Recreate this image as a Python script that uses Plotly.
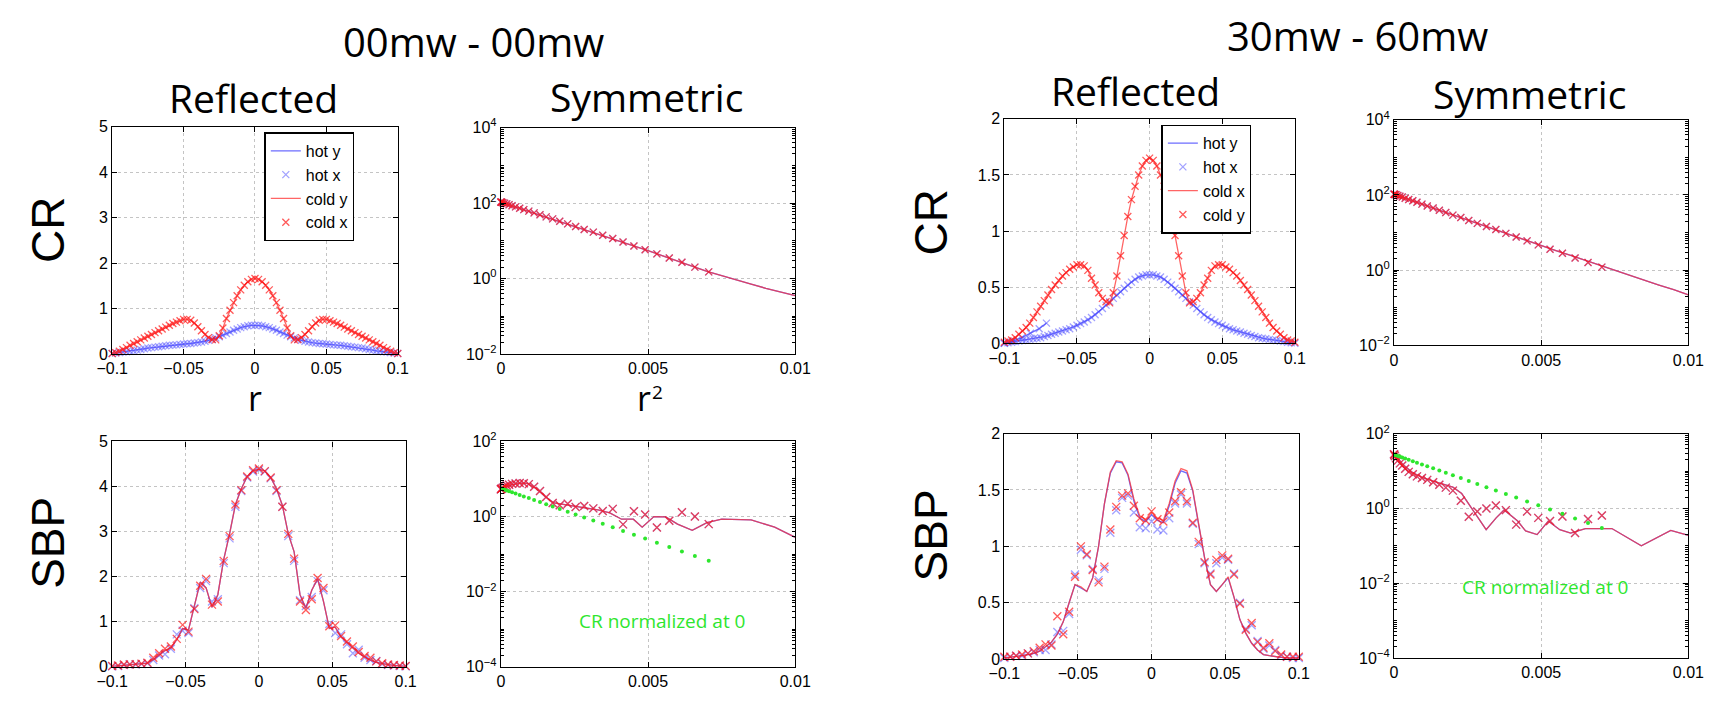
import plotly.graph_objects as go

W, H = 1727, 704

# ---------------- data ----------------
R81 = [-0.1, -0.0975, -0.095, -0.0925, -0.09, -0.0875, -0.085, -0.0825, -0.08, -0.0775,
       -0.075, -0.0725, -0.07, -0.0675, -0.065, -0.0625, -0.06, -0.0575, -0.055, -0.0525,
       -0.05, -0.0475, -0.045, -0.0425, -0.04, -0.0375, -0.035, -0.0325, -0.03, -0.0275,
       -0.025, -0.0225, -0.02, -0.0175, -0.015, -0.0125, -0.01, -0.0075, -0.005, -0.0025,
       0.0,
       0.0025, 0.005, 0.0075, 0.01, 0.0125, 0.015, 0.0175, 0.02, 0.0225, 0.025,
       0.0275, 0.03, 0.0325, 0.035, 0.0375, 0.04, 0.0425, 0.045, 0.0475, 0.05,
       0.0525, 0.055, 0.0575, 0.06, 0.0625, 0.065, 0.0675, 0.07, 0.0725, 0.075,
       0.0775, 0.08, 0.0825, 0.085, 0.0875, 0.09, 0.0925, 0.095, 0.0975, 0.1]

cr00_hot = [0.01, 0.02, 0.03, 0.04, 0.05, 0.06, 0.07, 0.085, 0.10, 0.115,
            0.13, 0.14, 0.15, 0.16, 0.17, 0.18, 0.19, 0.195, 0.20, 0.21,
            0.22, 0.225, 0.23, 0.24, 0.25, 0.265, 0.28, 0.30, 0.32, 0.35,
            0.38, 0.415, 0.45, 0.485, 0.52, 0.55, 0.58, 0.60, 0.62, 0.63,
            0.63,
            0.63, 0.62, 0.60, 0.58, 0.55, 0.52, 0.485, 0.45, 0.415, 0.38,
            0.35, 0.32, 0.30, 0.28, 0.265, 0.25, 0.24, 0.23, 0.225, 0.22,
            0.21, 0.20, 0.195, 0.19, 0.18, 0.17, 0.16, 0.15, 0.14, 0.13,
            0.115, 0.10, 0.085, 0.07, 0.06, 0.05, 0.04, 0.03, 0.02, 0.01]
cr00_cold = [0.01, 0.03, 0.06, 0.10, 0.14, 0.19, 0.23, 0.27, 0.31, 0.35,
             0.39, 0.43, 0.47, 0.51, 0.55, 0.59, 0.63, 0.67, 0.70, 0.73,
             0.76, 0.76, 0.74, 0.68, 0.60, 0.51, 0.43, 0.36, 0.32, 0.31,
             0.40, 0.57, 0.78, 0.96, 1.13, 1.28, 1.41, 1.51, 1.59, 1.64,
             1.66,
             1.64, 1.59, 1.51, 1.41, 1.28, 1.13, 0.96, 0.78, 0.57, 0.40,
             0.31, 0.32, 0.36, 0.43, 0.51, 0.60, 0.68, 0.74, 0.76, 0.76,
             0.73, 0.70, 0.67, 0.63, 0.59, 0.55, 0.51, 0.47, 0.43, 0.39,
             0.35, 0.31, 0.27, 0.23, 0.19, 0.14, 0.10, 0.06, 0.03, 0.01]
cr30_hot = [0.0, 0.005, 0.01, 0.015, 0.02, 0.025, 0.03, 0.035, 0.04, 0.045,
            0.05, 0.06, 0.07, 0.08, 0.09, 0.10, 0.11, 0.12, 0.13, 0.145,
            0.16, 0.175, 0.19, 0.21, 0.23, 0.255, 0.28, 0.31, 0.34, 0.37,
            0.40, 0.43, 0.46, 0.49, 0.52, 0.545, 0.57, 0.59, 0.60, 0.61,
            0.61,
            0.61, 0.60, 0.59, 0.57, 0.545, 0.52, 0.49, 0.46, 0.43, 0.40,
            0.37, 0.34, 0.31, 0.28, 0.255, 0.23, 0.21, 0.19, 0.175, 0.16,
            0.145, 0.13, 0.12, 0.11, 0.10, 0.09, 0.08, 0.07, 0.06, 0.05,
            0.045, 0.04, 0.035, 0.03, 0.025, 0.02, 0.015, 0.01, 0.005, 0.0]
cr30_cold = [0.01, 0.02, 0.03, 0.05, 0.08, 0.11, 0.14, 0.18, 0.23, 0.28,
             0.33, 0.38, 0.43, 0.48, 0.52, 0.56, 0.60, 0.63, 0.66, 0.68,
             0.70, 0.70, 0.69, 0.65, 0.58, 0.52, 0.45, 0.40, 0.37, 0.36,
             0.45, 0.60, 0.78, 0.96, 1.13, 1.28, 1.40, 1.50, 1.58, 1.63,
             1.65,
             1.63, 1.58, 1.50, 1.40, 1.28, 1.13, 0.96, 0.78, 0.60, 0.45,
             0.36, 0.37, 0.40, 0.45, 0.52, 0.58, 0.65, 0.69, 0.70, 0.70,
             0.68, 0.66, 0.63, 0.60, 0.56, 0.52, 0.48, 0.43, 0.38, 0.33,
             0.28, 0.23, 0.18, 0.14, 0.11, 0.08, 0.05, 0.03, 0.02, 0.01]
hot30_branch_r = [-0.1, -0.094, -0.088, -0.082, -0.076, -0.071]
hot30_branch = [0.0, 0.02, 0.05, 0.09, 0.13, 0.18]

R51 = [-0.1, -0.096, -0.092, -0.088, -0.084, -0.08, -0.076, -0.072, -0.068, -0.064,
       -0.06, -0.056, -0.052, -0.048, -0.044, -0.04, -0.036, -0.032, -0.028, -0.024,
       -0.02, -0.016, -0.012, -0.008, -0.004, 0.0, 0.004, 0.008, 0.012, 0.016,
       0.02, 0.024, 0.028, 0.032, 0.036, 0.04, 0.044, 0.048, 0.052, 0.056,
       0.06, 0.064, 0.068, 0.072, 0.076, 0.08, 0.084, 0.088, 0.092, 0.096, 0.1]

sbp00_line = [0.01, 0.02, 0.03, 0.04, 0.05, 0.06, 0.08, 0.16, 0.26, 0.36,
              0.42, 0.60, 0.85, 0.82, 1.35, 1.88, 1.75, 1.32, 1.60, 2.38,
              2.95, 3.60, 3.95, 4.22, 4.35, 4.38, 4.35, 4.20, 3.95, 3.58,
              2.95, 2.55, 1.60, 1.30, 1.70, 1.95, 1.45, 0.85, 0.88, 0.66,
              0.54, 0.42, 0.30, 0.22, 0.15, 0.10, 0.07, 0.05, 0.03, 0.02, 0.01]
sbp00_cold_x = [0.02, 0.03, 0.05, 0.05, 0.06, 0.07, 0.09, 0.20, 0.30, 0.40,
                0.45, 0.62, 0.93, 0.78, 1.28, 1.80, 1.95, 1.38, 1.45, 2.35,
                2.90, 3.60, 3.92, 4.22, 4.36, 4.40, 4.34, 4.20, 3.92, 3.55,
                2.95, 2.40, 1.45, 1.26, 1.50, 1.97, 1.75, 0.90, 0.92, 0.68,
                0.56, 0.45, 0.33, 0.24, 0.20, 0.12, 0.08, 0.05, 0.04, 0.03, 0.02]
sbp00_hot_x = [0.01, 0.02, 0.04, 0.06, 0.05, 0.06, 0.08, 0.15, 0.25, 0.28,
               0.40, 0.72, 0.80, 0.75, 1.30, 1.75, 1.90, 1.45, 1.50, 2.30,
               2.85, 3.55, 3.90, 4.20, 4.33, 4.37, 4.33, 4.18, 3.90, 3.55,
               2.90, 2.35, 1.48, 1.35, 1.55, 1.90, 1.70, 0.95, 0.75, 0.72,
               0.50, 0.30, 0.38, 0.20, 0.15, 0.13, 0.06, 0.04, 0.03, 0.02, 0.01]

sbp30_cold_y = [0.01, 0.015, 0.02, 0.03, 0.04, 0.05, 0.07, 0.11, 0.15, 0.22,
                0.33, 0.50, 0.66, 0.64, 0.60, 0.72, 1.00, 1.38, 1.66, 1.76,
                1.75, 1.64, 1.42, 1.27, 1.24, 1.30, 1.25, 1.23, 1.38, 1.58,
                1.69, 1.67, 1.50, 1.20, 0.90, 0.66, 0.60, 0.66, 0.73, 0.55,
                0.35, 0.23, 0.14, 0.08, 0.04, 0.03, 0.02, 0.015, 0.01, 0.01, 0.01]
sbp30_hot_y = [0.01, 0.015, 0.02, 0.03, 0.04, 0.05, 0.07, 0.11, 0.15, 0.22,
               0.33, 0.50, 0.66, 0.63, 0.60, 0.72, 1.00, 1.38, 1.65, 1.75,
               1.74, 1.63, 1.40, 1.25, 1.22, 1.28, 1.23, 1.21, 1.36, 1.56,
               1.67, 1.65, 1.49, 1.19, 0.90, 0.66, 0.60, 0.66, 0.72, 0.55,
               0.35, 0.23, 0.14, 0.08, 0.04, 0.03, 0.02, 0.015, 0.01, 0.01, 0.01]
sbp30_cold_x = [0.02, 0.02, 0.03, 0.04, 0.05, 0.07, 0.10, 0.13, 0.12, 0.38,
                0.22, 0.42, 0.73, 1.00, 0.93, 0.79, 0.68, 0.82, 1.15, 1.35,
                1.45, 1.47, 1.36, 1.25, 1.23, 1.31, 1.24, 1.22, 1.30, 1.40,
                1.48, 1.40, 1.21, 1.04, 0.86, 0.75, 0.88, 0.92, 0.89, 0.75,
                0.49, 0.26, 0.32, 0.15, 0.10, 0.14, 0.07, 0.04, 0.02, 0.02, 0.02]
sbp30_hot_x = [0.01, 0.02, 0.03, 0.03, 0.05, 0.06, 0.08, 0.08, 0.13, 0.24,
               0.25, 0.40, 0.75, 0.97, 0.92, 0.80, 0.70, 0.80, 1.12, 1.32,
               1.43, 1.45, 1.30, 1.17, 1.16, 1.22, 1.15, 1.14, 1.25, 1.38,
               1.46, 1.38, 1.20, 1.02, 0.85, 0.76, 0.85, 0.90, 0.88, 0.76,
               0.50, 0.27, 0.30, 0.16, 0.09, 0.12, 0.08, 0.03, 0.02, 0.01, 0.01]

# symmetric plots (x = r^2)
sym_line_r2 = [0.0, 0.0005, 0.001, 0.0015, 0.002, 0.0025, 0.003, 0.0035, 0.004, 0.0045, 0.005,
               0.0055, 0.006, 0.0065, 0.007, 0.0075, 0.008, 0.0085, 0.009, 0.0095, 0.01]
cr00_sym_line = [107, 78, 59, 43, 32, 24, 18, 13.3, 10, 7.4, 5.5,
                 4.0, 2.9, 2.1, 1.55, 1.2, 0.91, 0.71, 0.55, 0.44, 0.35]
cr30_sym_line = [105, 75, 55, 40, 29.5, 21.5, 15.5, 11.3, 8.3, 6.0, 4.4,
                 3.3, 2.45, 1.8, 1.35, 1.0, 0.72, 0.54, 0.40, 0.30, 0.22]

sym_mark_r2 = [0.0, 0.00001, 0.00003, 0.00007, 0.00013, 0.0002, 0.00028, 0.00038, 0.0005, 0.00064,
               0.00078, 0.00095, 0.00113, 0.00133, 0.00154, 0.00176, 0.002, 0.00227, 0.00254, 0.00283,
               0.00314, 0.00346, 0.0038, 0.00415, 0.00452, 0.0049, 0.0053, 0.00572, 0.00615, 0.00659,
               0.00706]
cr00_sym_x = [107, 106, 105, 102, 99, 95, 90, 85, 79, 73,
              67, 61, 55, 49, 43, 38, 33, 28, 24, 20,
              17, 14, 11.5, 9.3, 7.3, 5.8, 4.5, 3.5, 2.7, 2.0, 1.5]
cr30_sym_x = [105, 104, 103, 101, 97, 92, 88, 82, 76, 70,
              64, 57, 51, 45, 39, 34, 29, 25, 21, 17.5,
              14.5, 12, 9.5, 7.6, 6.0, 4.7, 3.6, 2.8, 2.1, 1.6, 1.2]

sbp00_sym_line_r2 = [0.0, 0.0003, 0.0006, 0.0009, 0.0012, 0.0015, 0.0018, 0.0021, 0.0025, 0.0029,
                     0.0033, 0.0037, 0.0041, 0.0045, 0.0048, 0.0052, 0.0056, 0.006, 0.0065, 0.007,
                     0.0075, 0.0085, 0.0093, 0.01]
sbp00_sym_line = [5.6, 6.8, 7.8, 7.6, 5.6, 3.4, 2.3, 2.1, 1.9, 1.7,
                  1.5, 1.25, 0.85, 0.85, 0.52, 1.0, 0.98, 0.63, 0.43, 0.69,
                  0.85, 0.82, 0.52, 0.28]
sbp00_sym_x = [5.3, 5.4, 5.6, 5.9, 6.3, 6.7, 7.0, 7.4, 7.6, 7.8,
               7.7, 7.3, 6.2, 4.8, 3.3, 2.3, 2.0, 2.2, 1.8, 1.9,
               1.65, 1.4, 1.6, 0.62, 1.39, 1.13, 0.51, 0.77, 1.3, 1.0, 0.63]
sbp00_cr_norm = [5.6, 5.6, 5.5, 5.4, 5.2, 4.96, 4.7, 4.4, 4.1, 3.76,
                 3.44, 3.1, 2.76, 2.44, 2.14, 1.86, 1.6, 1.35, 1.14, 0.95,
                 0.78, 0.64, 0.52, 0.41, 0.33, 0.26, 0.2, 0.154, 0.118, 0.089, 0.067]

sbp30_sym_line_r2 = [0.0, 0.0003, 0.00063, 0.00097, 0.0013, 0.00163, 0.002, 0.0023, 0.00263, 0.00313,
                     0.00347, 0.00374, 0.0042, 0.00447, 0.00486, 0.00524, 0.00563, 0.006, 0.0065, 0.0074,
                     0.0084, 0.0094, 0.01]
sbp30_sym_line = [30, 15, 9.1, 6.7, 5.5, 4.5, 3.7, 2.5, 1.0, 0.27,
                  0.56, 0.91, 0.46, 0.25, 0.2, 0.46, 0.27, 0.22, 0.29, 0.29,
                  0.1, 0.26, 0.19]
sbp30_sym_x = [28, 27, 25, 22, 19, 16, 14, 11.5, 9.5, 8.2,
               7.2, 6.5, 5.8, 5.0, 4.3, 3.6, 3.0, 1.6, 0.6, 0.83,
               1.0, 1.2, 0.9, 0.37, 0.83, 0.56, 0.46, 0.61, 0.22, 0.52, 0.65]
sbp30_cr_norm = [27.5, 27.4, 27, 26.4, 25.4, 24.3, 23, 21.6, 20, 18.3,
                 16.7, 15.0, 13.4, 11.8, 10.3, 8.95, 7.7, 6.5, 5.4, 4.5,
                 3.7, 3.0, 2.44, 1.95, 1.54, 1.21, 0.94, 0.72, 0.54, 0.41, 0.30]

refl_ticks = [-0.1, -0.05, 0, 0.05, 0.1]
refl_ticktext = ["\u22120.1", "\u22120.05", "0", "0.05", "0.1"]
sym_ticks = [0, 0.005, 0.01]
sym_ticktext = ["0", "0.005", "0.01"]

# ---------------- styles ----------------
BLUE_L = "rgba(60,60,255,0.75)"
BLUE_M = "rgba(70,70,255,0.5)"
RED_L = "rgba(255,50,50,0.75)"
RED_M = "rgba(255,20,20,0.7)"
GREEN = "#2ee62e"
HELV = "Liberation Sans, Arial, sans-serif"
TICKFONT = dict(family=HELV, size=16, color="black")
TITLEFONT = "Open Sans, Lato, sans-serif"

fig = go.Figure()


def ax_ids(i):
    return ("x" if i == 1 else f"x{i}"), ("y" if i == 1 else f"y{i}")


def add_line(i, x, y, color, name=None, legend=None, width=1.3):
    xa, ya = ax_ids(i)
    fig.add_trace(go.Scatter(x=x, y=y, mode="lines", line=dict(color=color, width=width),
                             xaxis=xa, yaxis=ya, name=name or "", showlegend=name is not None,
                             legend=legend or "legend", cliponaxis=False, hoverinfo="skip"))


def add_marks(i, x, y, color, name=None, legend=None, size=7):
    xa, ya = ax_ids(i)
    fig.add_trace(go.Scatter(x=x, y=y, mode="markers",
                             marker=dict(symbol="x-thin", size=size, color=color,
                                         line=dict(color=color, width=1.3)),
                             xaxis=xa, yaxis=ya, name=name or "", showlegend=name is not None,
                             legend=legend or "legend", cliponaxis=False, hoverinfo="skip"))


# 1: 00mw CR reflected
add_line(1, R81, cr00_hot, BLUE_L, "hot y", "legend")
add_marks(1, R81, cr00_hot, BLUE_M, "hot x", "legend")
add_line(1, R81, cr00_cold, RED_L, "cold y", "legend")
add_marks(1, R81, cr00_cold, RED_M, "cold x", "legend")
# 2: 00mw CR symmetric
add_line(2, sym_line_r2, cr00_sym_line, BLUE_L)
add_marks(2, sym_mark_r2, cr00_sym_x, BLUE_M)
add_line(2, sym_line_r2, cr00_sym_line, RED_L)
add_marks(2, sym_mark_r2, cr00_sym_x, RED_M)
# 3: 30mw CR reflected
add_line(3, R81, cr30_hot, BLUE_L, "hot y", "legend2")
add_line(3, hot30_branch_r, hot30_branch, BLUE_L)
add_marks(3, R81, cr30_hot, BLUE_M, "hot x", "legend2")
add_marks(3, hot30_branch_r, hot30_branch, BLUE_M)
add_line(3, R81, cr30_cold, RED_L, "cold x", "legend2")
add_marks(3, R81, cr30_cold, RED_M, "cold y", "legend2")
# 4: 30mw CR symmetric
add_line(4, sym_line_r2, cr30_sym_line, BLUE_L)
add_marks(4, sym_mark_r2, cr30_sym_x, BLUE_M)
add_line(4, sym_line_r2, cr30_sym_line, RED_L)
add_marks(4, sym_mark_r2, cr30_sym_x, RED_M)
# 5: 00mw SBP reflected
add_line(5, R51, sbp00_line, BLUE_L)
add_marks(5, R51, sbp00_hot_x, BLUE_M, size=8)
add_line(5, R51, sbp00_line, RED_L)
add_marks(5, R51, sbp00_cold_x, RED_M, size=8)
# 6: 00mw SBP symmetric
add_line(6, sbp00_sym_line_r2, sbp00_sym_line, BLUE_L)
add_marks(6, sym_mark_r2, sbp00_sym_x, BLUE_M, size=8)
add_line(6, sbp00_sym_line_r2, sbp00_sym_line, RED_L)
add_marks(6, sym_mark_r2, sbp00_sym_x, RED_M, size=8)
fig.add_trace(go.Scatter(x=sym_mark_r2, y=sbp00_cr_norm, mode="markers",
                         marker=dict(symbol="circle", size=4, color=GREEN),
                         xaxis="x6", yaxis="y6", showlegend=False, hoverinfo="skip"))
# 7: 30mw SBP reflected
add_line(7, R51, sbp30_hot_y, BLUE_L)
add_marks(7, R51, sbp30_hot_x, BLUE_M, size=8)
add_line(7, R51, sbp30_cold_y, RED_L)
add_marks(7, R51, sbp30_cold_x, RED_M, size=8)
# 8: 30mw SBP symmetric
add_line(8, sbp30_sym_line_r2, sbp30_sym_line, BLUE_L)
add_marks(8, sym_mark_r2, sbp30_sym_x, BLUE_M, size=8)
add_line(8, sbp30_sym_line_r2, sbp30_sym_line, RED_L)
add_marks(8, sym_mark_r2, sbp30_sym_x, RED_M, size=8)
fig.add_trace(go.Scatter(x=sym_mark_r2, y=sbp30_cr_norm, mode="markers",
                         marker=dict(symbol="circle", size=4, color=GREEN),
                         xaxis="x8", yaxis="y8", showlegend=False, hoverinfo="skip"))

# ---------------- axes ----------------
# pixel boxes (left, right, top, bottom)
boxes = {
    1: (98, 389, 119, 353),
    2: (494, 794, 120, 353),
    3: (1007, 1303, 111, 342),
    4: (1404, 1704, 112, 344),
    5: (98, 397, 443, 675),
    6: (494, 794, 443, 675),
    7: (1007, 1307, 435, 667),
    8: (1404, 1704, 435, 666),
}

common = dict(showline=True, linecolor="black", linewidth=1.2, mirror="allticks",
              ticks="inside", ticklen=5, tickcolor="black", tickfont=TICKFONT,
              showgrid=True, gridcolor="#c4c4c4", griddash="dot", gridwidth=1,
              zeroline=False, fixedrange=True)

log_vals_cr = [1e-2, 1, 1e2, 1e4]
log_text_cr = ["10<sup>\u22122</sup>", "10<sup>0</sup>", "10<sup>2</sup>", "10<sup>4</sup>"]
log_vals_sbp = [1e-4, 1e-2, 1, 1e2]
log_text_sbp = ["10<sup>\u22124</sup>", "10<sup>\u22122</sup>", "10<sup>0</sup>", "10<sup>2</sup>"]

layout_axes = {}
for i, (l, r, t, b) in boxes.items():
    xk = "xaxis" if i == 1 else f"xaxis{i}"
    yk = "yaxis" if i == 1 else f"yaxis{i}"
    xa, ya = ax_ids(i)
    xd = [l / W, r / W]
    yd = [1 - b / H, 1 - t / H]
    sym = i in (2, 4, 6, 8)
    if sym:
        xaxis = dict(common, domain=xd, anchor=ya, range=[0, 0.01],
                     tickmode="array", tickvals=sym_ticks, ticktext=sym_ticktext)
    else:
        xaxis = dict(common, domain=xd, anchor=ya, range=[-0.1, 0.1],
                     tickmode="array", tickvals=refl_ticks, ticktext=refl_ticktext)
    if i in (2, 4):
        yaxis = dict(common, domain=yd, anchor=xa, type="log", range=[-2, 4],
                     tickmode="array", tickvals=log_vals_cr, ticktext=log_text_cr,
                     minor=dict(ticks="inside", ticklen=3, tickcolor="black", dtick="D1", showgrid=False))
    elif i in (6, 8):
        yaxis = dict(common, domain=yd, anchor=xa, type="log", range=[-4, 2],
                     tickmode="array", tickvals=log_vals_sbp, ticktext=log_text_sbp,
                     minor=dict(ticks="inside", ticklen=3, tickcolor="black", dtick="D1", showgrid=False))
    elif i in (1, 5):
        yaxis = dict(common, domain=yd, anchor=xa, range=[0, 5], tickmode="linear", tick0=0, dtick=1)
    else:
        yaxis = dict(common, domain=yd, anchor=xa, range=[0, 2], tickmode="linear", tick0=0, dtick=0.5)
    layout_axes[xk] = xaxis
    layout_axes[yk] = yaxis

fig.update_layout(**layout_axes)


# ---------------- text ----------------
def txt(text, x, y, size, family=TITLEFONT, color="black", angle=0):
    fig.add_annotation(text=text, x=x / W, y=1 - y / H, xref="paper", yref="paper",
                       showarrow=False, font=dict(family=family, size=size, color=color),
                       textangle=angle, xanchor="center", yanchor="middle")


txt("00mw - 00mw", 466, 31, 40)
txt("30mw - 60mw", 1367, 25, 40)
txt("Reflected", 242, 89, 39)
txt("Symmetric", 642, 88, 39)
txt("Reflected", 1141, 82, 39)
txt("Symmetric", 1542, 85, 39)
txt("CR", 32, 225, 46, HELV, angle=-90)
txt("SBP", 33, 547, 46, HELV, angle=-90)
txt("CR", 932, 218, 46, HELV, angle=-90)
txt("SBP", 932, 540, 46, HELV, angle=-90)
txt("r", 244, 398, 34)
txt("r", 640, 398, 34)
txt("2", 654, 392, 19)
txt("CR normalized at 0", 658, 628, 19, color=GREEN)
txt("CR normalized at 0", 1558, 593, 19, color=GREEN)

legend_style = dict(bgcolor="white", bordercolor="black", borderwidth=1.5,
                    font=dict(family=HELV, size=16, color="black"),
                    xanchor="left", yanchor="top", itemclick=False, itemdoubleclick=False,
                    tracegroupgap=0)
fig.update_layout(
    width=W, height=H,
    margin=dict(l=0, r=0, t=0, b=0),
    paper_bgcolor="white", plot_bgcolor="white",
    legend=dict(legend_style, x=253 / W, y=1 - 125 / H),
    legend2=dict(legend_style, x=1167 / W, y=1 - 117 / H),
)

fig.write_html("out.html")
